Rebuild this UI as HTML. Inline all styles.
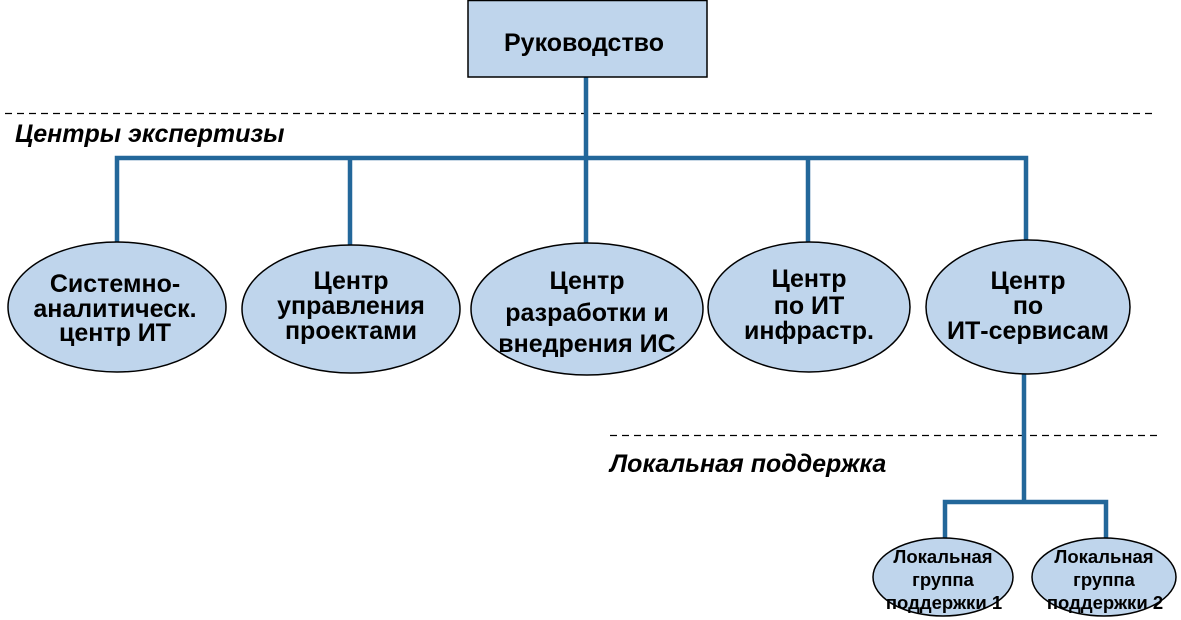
<!DOCTYPE html>
<html><head><meta charset="utf-8"><style>
html,body{margin:0;padding:0;background:#fff;}
svg{display:block;}
text{font-family:"Liberation Sans","DejaVu Sans",sans-serif;font-weight:bold;fill:#000;}
</style></head><body>
<svg width="1181" height="620" viewBox="0 0 1181 620" xmlns="http://www.w3.org/2000/svg">
<!-- dashed separators -->
<line x1="5" y1="113.5" x2="1157" y2="113.5" stroke="#000" stroke-width="1.3" stroke-dasharray="7,5"/>
<line x1="610" y1="435.5" x2="1157" y2="435.5" stroke="#000" stroke-width="1.3" stroke-dasharray="7,5"/>

<!-- connectors -->
<g stroke="#23679a" stroke-width="4.5" fill="none">
<line x1="586" y1="77" x2="586" y2="246"/>
<polyline points="117,244 117,158 1026,158 1026,242"/>
<line x1="350" y1="158" x2="350" y2="247"/>
<line x1="808" y1="158" x2="808" y2="244"/>
<line x1="1024" y1="374" x2="1024" y2="502"/>
<polyline points="945,539 945,502 1106,502 1106,539"/>
</g>

<!-- top box -->
<rect x="468" y="0.5" width="239" height="76.5" fill="#bfd5ec" stroke="#000" stroke-width="1.5"/>
<text x="584" y="51" font-size="25" text-anchor="middle">Руководство</text>

<text x="15" y="142" font-size="25" font-style="italic">Центры экспертизы</text>
<text x="610" y="472" font-size="25" font-style="italic">Локальная поддержка</text>

<!-- ellipses -->
<g fill="#bfd5ec" stroke="#000" stroke-width="1.5">
<ellipse cx="117" cy="307" rx="109" ry="65"/>
<ellipse cx="351" cy="309" rx="109" ry="64"/>
<ellipse cx="587" cy="309" rx="116" ry="66"/>
<ellipse cx="809" cy="307" rx="101" ry="65"/>
<ellipse cx="1028" cy="307" rx="102" ry="67"/>
<ellipse cx="943" cy="577" rx="70" ry="39"/>
<ellipse cx="1104" cy="577" rx="72" ry="39"/>
</g>

<g font-size="25" text-anchor="middle">
<text x="115" y="292">Системно-</text>
<text x="115" y="317">аналитическ.</text>
<text x="115" y="341">центр ИТ</text>

<text x="351" y="289">Центр</text>
<text x="351" y="314">управления</text>
<text x="351" y="339">проектами</text>

<text x="587" y="289">Центр</text>
<text x="587" y="321">разработки и</text>
<text x="587" y="352">внедрения ИС</text>

<text x="809" y="287">Центр</text>
<text x="809" y="314">по ИТ</text>
<text x="809" y="339">инфрастр.</text>

<text x="1028" y="289">Центр</text>
<text x="1028" y="314">по</text>
<text x="1028" y="339">ИТ-сервисам</text>
</g>

<g font-size="18.5" text-anchor="middle">
<text x="943" y="563">Локальная</text>
<text x="943" y="586">группа</text>
<text x="944" y="609">поддержки 1</text>
<text x="1104" y="563">Локальная</text>
<text x="1104" y="586">группа</text>
<text x="1105" y="609">поддержки 2</text>
</g>
</svg>
</body></html>
